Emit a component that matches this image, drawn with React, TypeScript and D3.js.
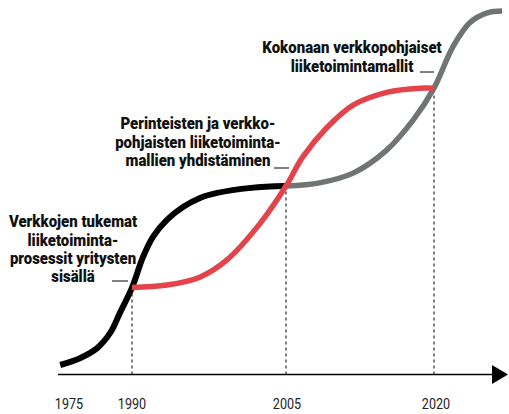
import * as d3 from "d3";
import React from "react";

// tick years on the time axis
const tickYears = [1975, 1990, 2005, 2020];

// phase 1: networks supporting internal business processes (black)
const phase1Years = [1972.9, 1977.6, 1981.7, 1984.8, 1987.1, 1990, 1991.07, 1992.04, 1993.4, 1994.97, 1996.63, 1998.3, 2001.6, 2005];
const phase1Levels = [2.5, 4.4, 7.2, 11.4, 16.9, 24.0, 32.5, 38.1, 42.8, 46.4, 48.9, 50.3, 51.7, 52.2];

// phase 2: combining traditional and network-based models (red)
const phase2Years = [1990, 1993.4, 1996.6, 1999.25, 2002.5, 2005, 2006.7, 2009.2, 2011.8, 2015.3, 2018.6, 2020];
const phase2Levels = [24.0, 24.7, 26.9, 31.7, 41.9, 52.2, 60.3, 68.6, 74.7, 78.3, 79.4, 79.4];

// phase 3: fully network-based business models (gray)
const phase3Years = [2005, 2008.4, 2011.8, 2015.2, 2017.9, 2020, 2021.9, 2023.6, 2025.4, 2026.9];
const phase3Levels = [52.2, 53.1, 55.8, 62.2, 70.6, 79.4, 90.8, 97.5, 100.3, 100.8];

// guide lines: year and level where each phase starts
const guideYears = [1990, 2005, 2020];
const guideLevels = [24.0, 52.2, 79.4];

const label1 = ["Verkkojen tukemat", "liiketoiminta-", "prosessit yritysten", "sisällä"];
const label2 = ["Perinteisten ja verkko-", "pohjaisten liiketoiminta-", "mallien yhdistäminen"];
const label3 = ["Kokonaan verkkopohjaiset", "liiketoimintamallit"];

const width = 509;
const height = 414;
const axisY = 374.5;

const font = "Roboto, 'Liberation Sans', sans-serif";

const App: React.FC = () => {
  // the time axis is not evenly spaced, so use a piecewise scale
  const x = d3.scaleLinear().domain(tickYears).range([69, 132, 286, 434]);
  const y = d3.scaleLinear().domain([0, 100]).range([374, 14]);

  const line = d3
    .line<[number, number]>()
    .x((d) => x(d[0]))
    .y((d) => y(d[1]))
    .curve(d3.curveCatmullRom.alpha(0.5));

  const zip = (a: number[], b: number[]) => a.map((v, i) => [v, b[i]] as [number, number]);

  // text blocks: centre x, first baseline, and the little leader line
  const labels = [
    { lines: label1, cx: 73, top: 227.5, lead: [112, 128, 281] },
    { lines: label2, cx: 198, top: 129.5, lead: [274, 289, 168] },
    { lines: label3, cx: 352, top: 53.5, lead: [420, 434, 72] },
  ];

  return (
    <svg
      width={width}
      height={height}
      style={{ position: "absolute", left: 0, top: 0, background: "#fff" }}
    >
      {/* dotted guides */}
      {guideYears.map((yr, i) => (
        <line
          key={yr}
          x1={x(yr)}
          x2={x(yr)}
          y1={axisY}
          y2={y(guideLevels[i])}
          stroke="#000"
          strokeWidth={1}
          strokeDasharray="3,3"
        />
      ))}

      {/* axis with arrow */}
      <line x1={58} x2={494} y1={axisY} y2={axisY} stroke="#000" strokeWidth={1.3} />
      <path d={`M492,${axisY - 9.5}L508,${axisY}L492,${axisY + 9.5}Z`} fill="#000" />

      {tickYears.map((yr) => (
        <text
          key={yr}
          transform={`translate(${x(yr) + (yr === 2020 ? 2 : yr === 2005 ? 1 : 0)},409) scale(0.84,1)`}
          textAnchor="middle"
          fontFamily={font}
          fontSize={15}
          fill="#222"
        >
          {yr}
        </text>
      ))}

      {/* curves */}
      <path d={line(zip(phase1Years, phase1Levels)) ?? ""} fill="none" stroke="#000" strokeWidth={6} />
      <path d={line(zip(phase3Years, phase3Levels)) ?? ""} fill="none" stroke="#707572" strokeWidth={5.5} />
      <path d={line(zip(phase2Years, phase2Levels)) ?? ""} fill="none" stroke="#e3444b" strokeWidth={5.5} />

      {/* annotations */}
      {labels.map((lb, i) => (
        <g key={i}>
          <g transform={`translate(${lb.cx},0) scale(0.88,1)`}>
            {lb.lines.map((t, j) => (
              <text
                key={j}
                x={0}
                y={lb.top + j * 18.1}
                textAnchor="middle"
                fontFamily={font}
                fontWeight={900}
                fontSize={17}
                fill="#111"
              >
                {t}
              </text>
            ))}
          </g>
          <line x1={lb.lead[0]} x2={lb.lead[1]} y1={lb.lead[2]} y2={lb.lead[2]} stroke="#000" strokeWidth={1} />
        </g>
      ))}
    </svg>
  );
};

export default App;
